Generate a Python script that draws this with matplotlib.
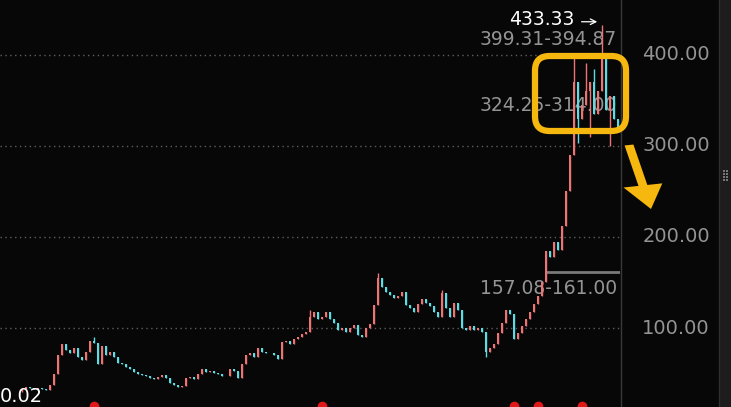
import matplotlib
matplotlib.use("Agg")
import matplotlib.pyplot as plt
from matplotlib.patches import FancyBboxPatch, FancyArrow, Rectangle

# ---- data ----
closes = [33, 35, 34, 33, 34, 33, 32, 37, 50, 70, 82, 76, 73, 78, 68, 65, 74, 86, 84, 60,
          80, 70, 74, 68, 62, 60, 57, 55, 52, 50, 48, 47, 45, 44, 46, 48, 45, 40, 37, 35,
          36, 45, 46, 44, 50, 55, 52, 53, 51, 49, 47, 47, 55, 53, 45, 60, 70, 73, 68, 78,
          74, 72, 73, 70, 66, 85, 86, 82, 88, 90, 93, 96, 112, 118, 110, 112, 118, 110, 106, 98,
          100, 96, 100, 103, 92, 90, 100, 104, 125, 155, 145, 140, 136, 133, 135, 140, 125, 122, 118, 126,
          132, 128, 124, 118, 112, 138, 122, 112, 128, 120, 100, 98, 102, 98, 100, 96, 74, 78, 82, 94,
          105, 120, 115, 88, 95, 102, 110, 118, 126, 135, 150, 185, 178, 195, 186, 212, 250, 290, 370, 330,
          345, 360, 370, 335, 360, 400, 340, 355, 330, 318]
open_first = 31
wick_high_idx = [89, 138, 141, 145, 105, 18, 72, 143]
wick_high_val = [160, 402, 391, 433.33, 142, 90, 120, 385]
wick_low_idx = [0, 116, 139, 147, 142]
wick_low_val = [30.02, 68, 303, 300, 310]

yticks = [100, 200, 300, 400]
ytick_labels = ["100.00", "200.00", "300.00", "400.00"]
range_labels = ["399.31-394.87", "324.25-314.00", "157.08-161.00"]
range_label_y = [417, 344, 143]
support_level = 162
max_label = "433.33"
min_label = "0.02"
dot_idx = [18, 75, 123, 129, 140]

BG = "#070707"
UP = "#ee7474"
DOWN = "#5fdbe4"
GRID = "#5e5e5e"
TXT = "#949494"
YEL = "#f6b70f"

W, H = 731, 407
fig = plt.figure(figsize=(W / 100, H / 100), dpi=100, facecolor=BG)
ax = fig.add_axes([0, 0, 620 / W, 1])
ax.set_facecolor(BG)
ax.set_xlim(-5.5, 149.5)
ax.set_ylim(13.2, 460.4)
for s in ax.spines.values():
    s.set_visible(False)
ax.set_xticks([])
ax.set_yticks([])

n = len(closes)
opens = [open_first] + closes[:-1]
highs = [max(o, c) for o, c in zip(opens, closes)]
lows = [min(o, c) for o, c in zip(opens, closes)]
for i, v in zip(wick_high_idx, wick_high_val):
    highs[i] = v
for i, v in zip(wick_low_idx, wick_low_val):
    lows[i] = v

# grid
for yt in yticks:
    ax.axhline(yt, color=GRID, lw=1.0, ls=(0, (1, 2.5)), zorder=1)

# range labels (drawn below candles)
for lab, yv in zip(range_labels, range_label_y):
    ax.text(148.7, yv, lab, color=TXT, fontsize=13.5, ha="right", va="center", zorder=2)

xs = list(range(n))
cols = [UP if c >= o else DOWN for o, c in zip(opens, closes)]
ax.vlines(xs, lows, highs, colors=cols, lw=1.0, zorder=3)
ax.bar(xs, [max(abs(c - o), 0.8) for o, c in zip(opens, closes)],
       bottom=[min(o, c) for o, c in zip(opens, closes)], width=0.5,
       color=cols, linewidth=0, zorder=3)

# support line
ax.hlines(support_level, 130.7, 149.5, colors="#7a7a7a", lw=2, zorder=2)

# max label
ax.text(138.0, 439.5, max_label, color="white", fontsize=13.5, ha="right", va="center", zorder=5)
ax.annotate("", xy=(144.5, 436.5), xytext=(139.2, 436.5),
            arrowprops=dict(arrowstyle="->", color="white", lw=0.9), zorder=5)

# min label
fig.text(0 / W, 1 / H, min_label, color="white", fontsize=14, ha="left", va="bottom")

# right axis panel
for yt, lab in zip(yticks, ytick_labels):
    yfrac = (yt - 13.2) / (460.4 - 13.2)
    fig.text(710 / W, yfrac, lab, color=TXT, fontsize=14, ha="right", va="center")
fig.add_artist(plt.Line2D([620.5 / W, 620.5 / W], [0, 1], color="#3a3a3a", lw=1))
fig.add_artist(plt.Line2D([718.5 / W, 718.5 / W], [0, 1], color="#2e2e2e", lw=1))
fig.add_artist(Rectangle((720 / W, 0), 11 / W, 1, transform=fig.transFigure,
                         facecolor="#1c1c1c", edgecolor="none"))
for k in range(4):
    for j in range(2):
        fig.add_artist(Rectangle(((723 + 3 * j) / W, 1 - (172 + 3 * k) / H), 1.5 / W, 1.5 / H,
                                 transform=fig.transFigure, facecolor="#777777", edgecolor="none"))

# yellow highlight box
box = FancyBboxPatch((535 / W, 1 - 131 / H), 91 / W, 75 / H,
                     boxstyle="round,pad=0,rounding_size=0.02",
                     transform=fig.transFigure, fill=False, edgecolor=YEL, lw=4.5,
                     mutation_aspect=W / H, zorder=6)
fig.add_artist(box)

# yellow arrow
fig.add_artist(FancyArrow(629 / W, 1 - 145 / H, 22 / W, -64 / H, width=5 / H,
                          head_width=22 / H, head_length=24 / H, length_includes_head=True,
                          transform=fig.transFigure, color=YEL, lw=0))

# red markers at bottom
for di in dot_idx:
    ax.plot(di, 14.5, "o", color="#e01818", ms=7, mec="none", zorder=6, clip_on=False)

fig.savefig("out.png", dpi=100, facecolor=BG)
